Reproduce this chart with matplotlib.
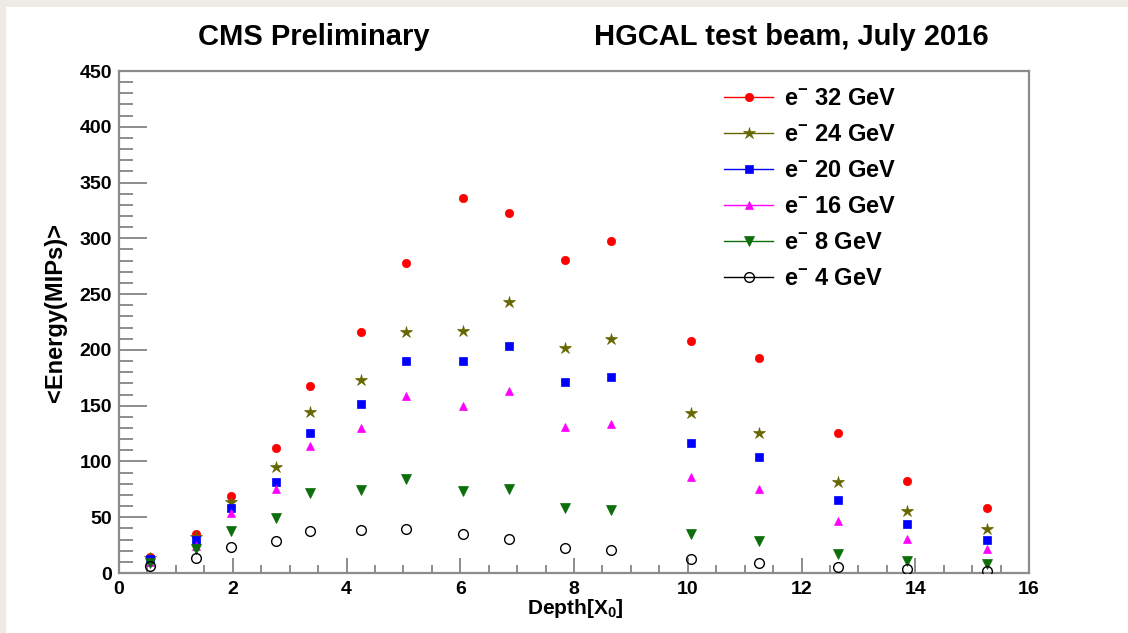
import matplotlib
matplotlib.use("Agg")
import matplotlib.pyplot as plt
from matplotlib.lines import Line2D
from matplotlib.patches import Rectangle
from matplotlib.ticker import MultipleLocator

plt.rcParams['font.family'] = ['Liberation Sans', 'DejaVu Sans']
plt.rcParams['font.weight'] = 'bold'
plt.rcParams['mathtext.fontset'] = 'custom'
plt.rcParams['mathtext.rm'] = 'Liberation Sans:bold'
plt.rcParams['mathtext.it'] = 'Liberation Sans:bold'
plt.rcParams['mathtext.bf'] = 'Liberation Sans:bold'
plt.rcParams['mathtext.default'] = 'rm'

# depth of each layer in X0
depth = [0.55, 1.36, 1.97, 2.76, 3.36, 4.25, 5.05, 6.05, 6.86, 7.84, 8.65,
         10.06, 11.25, 12.64, 13.85, 15.26]

# mean energy in MIPs
e32 = [14, 35, 69, 112, 168, 216, 278, 336, 323, 281, 298, 208, 193, 125.5, 82.5, 58]
e24 = [13, 32, 64, 95, 144, 173, 216, 217, 243, 202, 210, 143, 125.5, 81.6, 56, 39]
e20 = [12.5, 29.6, 58.5, 81.6, 125.5, 151.5, 190, 190, 203.5, 171, 176, 116.5, 104, 65.5, 43.6, 29.6]
e16 = [10, 24, 54, 75, 114, 130, 159, 150, 163, 131, 133.5, 86, 75, 46.6, 30.5, 21.5]
e8 = [9, 21.5, 37.6, 49, 71.7, 74.4, 84, 73.5, 75.3, 58, 56.5, 35, 28.7, 17, 11, 8]
e4 = [6.3, 13.4, 23.6, 29, 37.6, 38.5, 39, 34.7, 30.8, 22, 20.6, 12.3, 9.3, 5.1, 3.9, 2]

labels = ['e$^{-}$ 32 GeV', 'e$^{-}$ 24 GeV', 'e$^{-}$ 20 GeV',
          'e$^{-}$ 16 GeV', 'e$^{-}$ 8 GeV', 'e$^{-}$ 4 GeV']

fig = plt.figure(figsize=(11.28, 6.33), dpi=100)
fig.patch.set_facecolor('#eeebe5')
fig.patches.append(Rectangle((6 / 1128, 0), 1, 1 - 7 / 633, transform=fig.transFigure,
                             facecolor='white', edgecolor='none', zorder=-5))

ax = fig.add_axes([119 / 1128, 1 - 573 / 633, 910 / 1128, 502 / 633])
ax.set_facecolor('none')

styles = [
    (e32, 'o', '#ff0000', 'full', 6),
    (e24, '*', '#666600', 'full', 9),
    (e20, 's', '#0000ff', 'full', 6),
    (e16, '^', '#ff00ff', 'full', 6),
    (e8, 'v', '#0b6e0b', 'full', 7),
    (e4, 'o', '#000000', 'none', 7),
]

handles = []
for (vals, mk, col, fill, ms), lab in zip(styles, labels):
    ax.plot(depth, vals, linestyle='none', marker=mk, color=col, markersize=ms,
            fillstyle=fill, markeredgewidth=1.0 if fill == 'none' else 0.5, zorder=3)
    handles.append(Line2D([], [], color=col, lw=1, marker=mk, markersize=ms,
                          fillstyle=fill, markeredgewidth=1.0 if fill == 'none' else 0.5))

ax.set_xlim(0, 16)
ax.set_ylim(0, 450)
ax.xaxis.set_major_locator(MultipleLocator(2))
ax.xaxis.set_minor_locator(MultipleLocator(0.5))
ax.yaxis.set_major_locator(MultipleLocator(50))
ax.yaxis.set_minor_locator(MultipleLocator(10))

for s in ax.spines.values():
    s.set_color('#8c8c8c')
    s.set_linewidth(1.6)

ax.tick_params(axis='both', which='both', direction='in', color='#8c8c8c', width=1.4,
               labelsize=14, top=False, right=False)
ax.tick_params(axis='x', which='major', length=11, pad=6)
ax.tick_params(axis='x', which='minor', length=6)
ax.tick_params(axis='y', which='major', length=20, pad=5)
ax.tick_params(axis='y', which='minor', length=10)

fig.text(56 / 1128, 1 - 313 / 633, '<Energy(MIPs)>', rotation=90, ha='center', va='center',
         fontsize=17)
fig.text(575 / 1128, 1 - 608 / 633, 'Depth[X$_0$]', ha='center', va='center', fontsize=15)

fig.text(314 / 1128, 1 - 37 / 633, 'CMS Preliminary', ha='center', va='center', fontsize=21)
fig.text(791 / 1128, 1 - 37 / 633, 'HGCAL test beam, July 2016', ha='center', va='center',
         fontsize=21)

ax.legend(handles, labels, loc='upper left', bbox_to_anchor=(724 / 1128, 1 - 87 / 633),
          bbox_transform=fig.transFigure, frameon=False, fontsize=17, borderpad=0,
          borderaxespad=0, handlelength=2.08, handletextpad=0.47, labelspacing=0.55,
          numpoints=1)

fig.savefig('out.png', dpi=100)
